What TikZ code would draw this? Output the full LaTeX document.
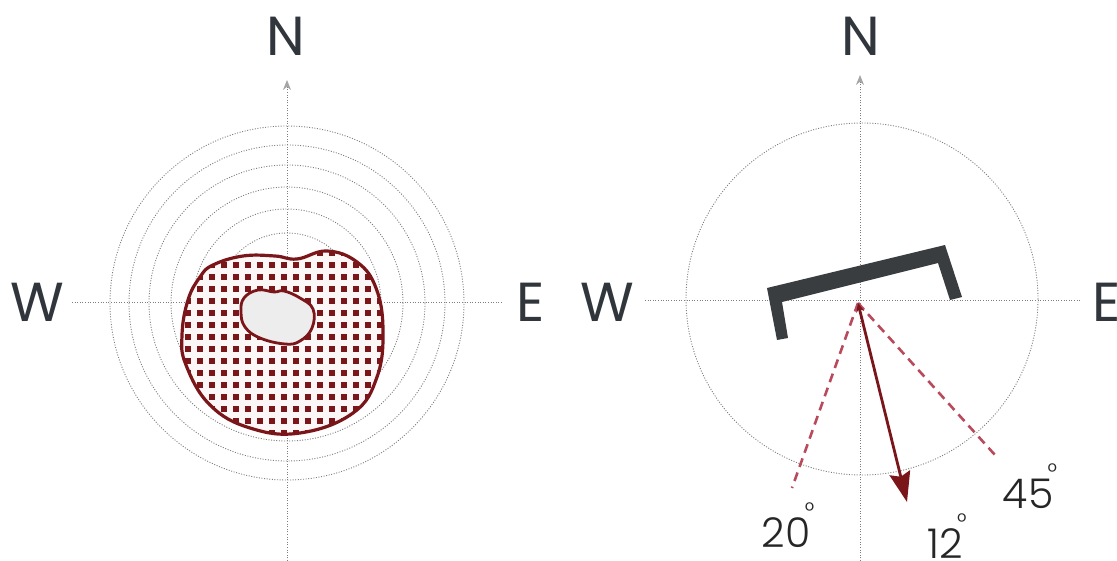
\documentclass[tikz,border=0pt]{standalone}
\usepackage{fontspec}
\setmainfont{Poppins}
\newfontfamily\lightfont{Poppins}[UprightFont=* Light]
\usetikzlibrary{arrows.meta}
\definecolor{axisgray}{HTML}{7E7E7E}
\definecolor{darkred}{HTML}{7A1519}
\definecolor{dashred}{HTML}{B84A5C}
\definecolor{letter}{HTML}{30363C}
\definecolor{bracketgray}{HTML}{3A3D40}
\definecolor{blobbg}{HTML}{FBF7F7}
\definecolor{holefill}{HTML}{EDEDED}
\newcommand{\degmark}{\kern-0.14em\raisebox{0.68em}{\fontsize{24}{24}\selectfont\char"00B0}}
\begin{document}
\begin{tikzpicture}[x=1pt,y=-1pt,
  axis/.style={axisgray, line width=1pt, dash pattern=on 1pt off 1.6pt},
  ring/.style={axisgray, line width=0.9pt, dash pattern=on 1pt off 1.6pt},
  northtip/.style={-{Stealth[length=10pt,width=8pt,color=axisgray!70,fill=axisgray!70]}},
  compass/.style={text=letter, font=\fontsize{55}{55}\selectfont, inner sep=0pt},
  anglelabel/.style={text=black!85, font=\lightfont\fontsize{41}{41}\selectfont, inner sep=0pt},
  outline/.style={darkred, line width=3.2pt},
  dot/.style={darkred},
  rayline/.style={dashred, line width=2.6pt, dash pattern=on 9pt off 6pt},
  windarrow/.style={darkred, line width=2.8pt, {Stealth[length=9pt,width=8pt]}-{Stealth[length=30pt,width=21pt,inset=4pt]}}
]
\useasboundingbox (0,0) rectangle (1117,561);

% ---------- left compass ----------
\coordinate (L) at (287,303);
\coordinate (Ltop) at (287,80);
\coordinate (Lbot) at (287,561);
\coordinate (Lw) at (72,303);
\coordinate (Le) at (502,303);
\foreach \r in {70,94,116,138,158,177}
  \draw[ring] (L) circle[radius=\r pt];
\draw[axis] (Lw) -- (Le);
\draw[axis, northtip] (Lbot) -- (Ltop);

\node[compass] (LN) at (286,36) {N};
\node[compass] (LW) at (37,302) {W};
\node[compass] (LE) at (531,302) {E};

\def\outerblob{plot[smooth cycle, tension=0.7] coordinates {
 (200,277) (213,265) (243,256) (275,256) (297,259) (327,251) (357,262) (376,288)
 (383,330) (377,377) (353,413) (300,433) (250,428) (210,405) (186,365) (182,335) (188,300)}}
\def\holeblob{plot[smooth cycle, tension=0.7] coordinates {
 (244,298) (258,290) (274,292) (284,291) (300,298) (313,309) (312,328) (300,341)
 (285,344) (260,338) (245,327) (241,312)}}

\fill[blobbg] \outerblob;
\begin{scope}
  \clip \outerblob;
  \foreach \i in {0,...,17}
    \foreach \j in {0,...,16}
      \fill[dot] (188+12*\i-2.9, 253+12*\j-2.9) rectangle ++(5.8,5.8);
\end{scope}
\filldraw[fill=holefill, draw=darkred, line width=2.8pt] \holeblob;
\draw[outline] \outerblob;

% ---------- right compass ----------
\coordinate (R) at (860,301);
\coordinate (Rc) at (862,299);
\coordinate (Rtop) at (860,75);
\coordinate (Rbot) at (860,561);
\coordinate (Rw) at (645,301);
\coordinate (Re) at (1080,301);
\draw[ring] (Rc) circle[radius=176pt];
\draw[axis] (Rw) -- (Re);
\draw[axis, northtip] (Rbot) -- (Rtop);

\node[compass] (RN) at (861,36) {N};
\node[compass] (RW) at (607,302) {W};
\node[compass, anchor=west] (RE) at (1092,302) {E};

\fill[bracketgray] (767,288) -- (945,245) -- (962,297) -- (950,300) -- (938,263)
  -- (782,302) -- (788,338) -- (777,340) -- cycle;

\coordinate (O) at (858,303);
\coordinate (D20) at (792,488);
\coordinate (D45) at (995,455);
\coordinate (W12) at (907,502);
\draw[rayline] (O) -- (D20);
\draw[rayline] (O) -- (D45);
\draw[windarrow] (O) -- (W12);

\node[anglelabel] (A20) at (788,525) {20\degmark};
\node[anglelabel] (A12) at (947,536) {12\degmark};
\node[anglelabel] (A45) at (1030,486) {45\degmark};
\end{tikzpicture}
\end{document}
